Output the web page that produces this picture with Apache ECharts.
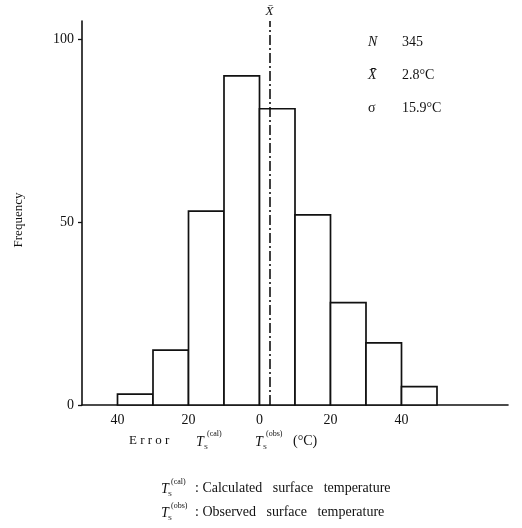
<!DOCTYPE html>
<html>
<head>
<meta charset="utf-8">
<script src="https://cdn.jsdelivr.net/npm/echarts@6/dist/echarts.min.js"></script>
<style>
  html, body { margin: 0; padding: 0; background: #fff; }
  #chart { width: 522px; height: 528px; }
</style>
</head>
<body>
<div id="chart"></div>
<script>
// Histogram of surface-temperature error, 10 °C bins
const binLow  = [-40, -30, -20, -10, 0, 10, 20, 30, 40];
const binHigh = [-30, -20, -10, 0, 10, 20, 30, 40, 50];
const counts  = [3, 15, 53, 90, 81, 52, 28, 17, 5];

const meanError = 2.8;
const xTickLabels = [-40, -20, 0, 20, 40];
const yTickValues = [0, 50, 100];

const statNames  = ['N', 'X\u0304', '\u03c3'];
const statValues = ['345', '2.8\u00b0C', '15.9\u00b0C'];

const FONT = 'Liberation Serif';
const INK = '#111';

const bins = binLow.map((lo, i) => [lo, binHigh[i], counts[i]]);

function renderBin(params, api) {
  const lo = api.value(0), hi = api.value(1), c = api.value(2);
  const base = api.coord([lo, 0]);
  const top = api.coord([hi, c]);
  return {
    type: 'rect',
    shape: { x: base[0], y: top[1], width: top[0] - base[0], height: base[1] - top[1] },
    style: { fill: '#fff', stroke: INK, lineWidth: 1.7 }
  };
}

// small helper for typeset text pieces (italic T with sub/superscripts)
function txt(x, y, text, size, italic) {
  return {
    type: 'text', x: x, y: y, z: 10,
    style: {
      text: text, fill: INK, font: (italic ? 'italic ' : '') + size + 'px "' + FONT + '"',
      textVerticalAlign: 'middle'
    }
  };
}

const graphics = [];
// statistics block
statNames.forEach((n, i) => {
  graphics.push(txt(368, 42 + i * 33, n, 14, i < 2));
  graphics.push(txt(402, 42 + i * 33, statValues[i], 14, false));
});
// x-axis title: Error  Ts(cal)  Ts(obs) (°C)
graphics.push(txt(129, 441, 'E r r o r', 13, false));
graphics.push(txt(196, 442, 'T', 14, true));
graphics.push(txt(204, 447, 'S', 7, false));
graphics.push(txt(207, 434, '(cal)', 8, false));
graphics.push(txt(255, 442, 'T', 14, true));
graphics.push(txt(263, 447, 'S', 7, false));
graphics.push(txt(266, 434, '(obs)', 8, false));
graphics.push(txt(293, 441, '(\u00b0C)', 14, false));
// footnotes
graphics.push(txt(161, 489, 'T', 14, true));
graphics.push(txt(168, 494, 'S', 7, false));
graphics.push(txt(171, 482, '(cal)', 8, false));
graphics.push(txt(195, 488, ': Calculated   surface   temperature', 14, false));
graphics.push(txt(161, 513, 'T', 14, true));
graphics.push(txt(168, 518, 'S', 7, false));
graphics.push(txt(171, 506, '(obs)', 8, false));
graphics.push(txt(195, 512, ': Observed   surface   temperature', 14, false));
// rotated y-axis title
graphics.push({
  type: 'text', x: 19, y: 220, rotation: Math.PI / 2, z: 10,
  style: { text: 'Frequency', fill: INK, font: '13px "' + FONT + '"',
           textAlign: 'center', textVerticalAlign: 'middle' }
});

const chart = echarts.init(document.getElementById('chart'), null, { renderer: 'canvas' });
chart.setOption({
  backgroundColor: '#fff',
  animation: false,
  textStyle: { fontFamily: FONT, color: INK },
  grid: { left: 82, right: 14, top: 21, bottom: 123 },
  xAxis: {
    type: 'value', min: -50, max: 70, interval: 10,
    axisLine: { show: true, onZero: false, lineStyle: { color: INK, width: 1.6 } },
    axisTick: { show: false },
    splitLine: { show: false },
    axisLabel: {
      color: INK, fontFamily: FONT, fontSize: 14, margin: 8,
      formatter: v => xTickLabels.indexOf(v) >= 0 ? String(Math.abs(v)) : ''
    }
  },
  yAxis: {
    type: 'value', min: 0, max: 105,
    axisLine: { show: true, onZero: false, lineStyle: { color: INK, width: 1.6 } },
    axisTick: { show: true, length: 4, customValues: yTickValues, lineStyle: { color: INK, width: 1.3 } },
    splitLine: { show: false },
    axisLabel: { color: INK, fontFamily: FONT, fontSize: 14, margin: 8, customValues: yTickValues }
  },
  series: [{
    type: 'custom',
    renderItem: renderBin,
    encode: { x: [0, 1], y: 2 },
    data: bins,
    markLine: {
      silent: true, symbol: 'none',
      lineStyle: { color: INK, width: 1.6, type: [10, 3, 2, 3] },
      label: { show: true, position: 'end', formatter: 'X\u0304', color: INK,
               fontFamily: FONT, fontSize: 13, fontStyle: 'italic', distance: 3 },
      data: [{ xAxis: meanError }]
    }
  }],
  graphic: graphics
});
</script>
</body>
</html>
